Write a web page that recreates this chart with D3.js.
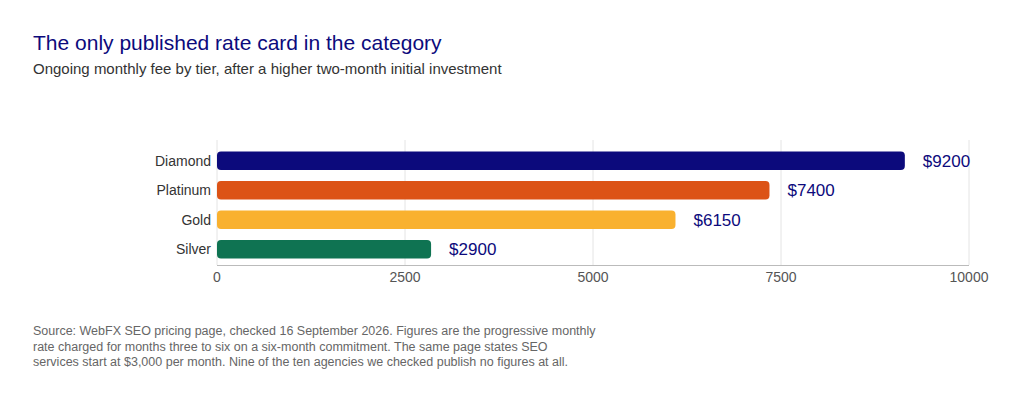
<!DOCTYPE html>
<html><head><meta charset="utf-8">
<script src="https://cdn.jsdelivr.net/npm/d3@7"></script>
<style>body{margin:0;background:#fff;font-family:"Helvetica Neue",Arial,"Liberation Sans",sans-serif;}</style>
</head><body><svg id="c" width="1024" height="402"></svg>
<script>
const tiers=["Diamond","Platinum","Gold","Silver"];
const fees=[9200,7400,6150,2900];
const colors=["#0c0a7c","#dc5316","#f9b12f","#0f7352"];
const ticks=[0,2500,5000,7500,10000];
const svg=d3.select("#c");
const x=d3.scaleLinear().domain([0,10000]).range([217,969]);
const y=d3.scaleBand().domain(tiers).range([147,263]).paddingInner(0.37).paddingOuter(0.15);
svg.append("text").attr("x",33).attr("y",50).attr("font-size",21).attr("fill","#0c0a7c").text("The only published rate card in the category");
svg.append("text").attr("x",33).attr("y",74).attr("font-size",15).attr("fill","#333").text("Ongoing monthly fee by tier, after a higher two-month initial investment");
svg.selectAll(".g").data(ticks).join("line").attr("x1",d=>x(d)).attr("x2",d=>x(d)).attr("y1",140).attr("y2",265).attr("stroke","#e4e4e4");
svg.append("line").attr("x1",217).attr("x2",969).attr("y1",265.5).attr("y2",265.5).attr("stroke","#bbb");
svg.selectAll(".t").data(ticks).join("text").attr("x",d=>x(d)).attr("y",282).attr("text-anchor","middle").attr("font-size",14).attr("fill","#555").text(d=>d);
svg.selectAll(".b").data(tiers).join("rect").attr("x",x(0)).attr("y",d=>y(d)).attr("height",y.bandwidth()).attr("width",(d,i)=>x(fees[i])-x(0)-4).attr("rx",4).attr("fill",(d,i)=>colors[i]);
svg.selectAll(".l").data(tiers).join("text").attr("x",211).attr("y",d=>y(d)+y.bandwidth()/2+5).attr("text-anchor","end").attr("font-size",14).attr("fill","#333").text(d=>d);
svg.selectAll(".v").data(tiers).join("text").attr("x",(d,i)=>x(fees[i])+14).attr("y",d=>y(d)+y.bandwidth()/2+6).attr("font-size",17).attr("fill","#0c0a7c").text((d,i)=>"$"+fees[i]);
const foot=["Source: WebFX SEO pricing page, checked 16 September 2026. Figures are the progressive monthly","rate charged for months three to six on a six-month commitment. The same page states SEO","services start at $3,000 per month. Nine of the ten agencies we checked publish no figures at all."];
svg.selectAll(".f").data(foot).join("text").attr("x",33).attr("y",(d,i)=>335+i*15.5).attr("font-size",12.5).attr("fill","#666").text(d=>d);
</script></body></html>
